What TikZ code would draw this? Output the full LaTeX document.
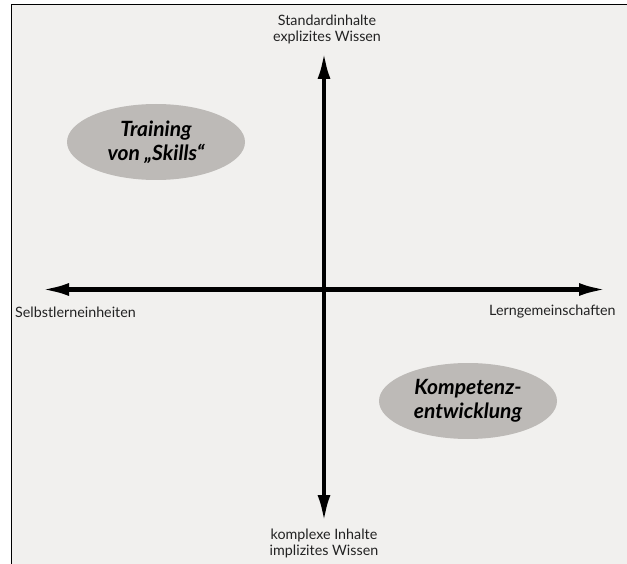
\documentclass[tikz,border=0pt]{standalone}
\usepackage{fontspec}
\setmainfont{Lato}
\usetikzlibrary{arrows.meta,shapes.geometric}
\definecolor{bgc}{HTML}{F1F0EE}
\definecolor{ellc}{HTML}{BDBAB7}
\definecolor{txt}{HTML}{222222}
\tikzset{
  axis/.style={line width=4.2pt, black, {Latex[length=27pt,width=13pt]}-{Latex[length=27pt,width=13pt]}},
  lbl/.style={inner sep=0pt, text=txt, font=\fontsize{14.3}{16}\selectfont, align=center},
  blob/.style={ellipse, fill=ellc, minimum width=178pt, minimum height=76pt, inner sep=0pt,
    text=black, font=\fontsize{21}{24.5}\selectfont\bfseries\itshape, align=center}
}
\begin{document}
\begin{tikzpicture}[x=1pt,y=-1pt]
\useasboundingbox (0,0) rectangle (627,564);
\fill[white] (0,0) rectangle (627,564);
\fill[bgc] (11,5) rectangle (627,564);
\draw[line width=1pt] (11,564) -- (11,5) -- (627,5);
% axis ends
\coordinate (top) at (324,52);
\coordinate (bot) at (324,522);
\coordinate (left) at (42,289.5);
\coordinate (right) at (606,289.5);
\draw[axis] (top) -- (bot);
\draw[axis] (left) -- (right);
% labels
\node[lbl] (tl) at (327,29.5) {Standardinhalte\\explizites Wissen};
\node[lbl] (bl) at (324,543) {komplexe Inhalte\\implizites Wissen};
\node[lbl, anchor=west] (ll) at (15,312) {Selbstlerneinheiten};
\node[lbl, anchor=west] (rl) at (489,312) {Lerngemeinschaften};
% ellipses
\node[blob] (train) at (156,142) {Training\\von „Skills“};
\node[blob] (komp) at (468,401) {Kompetenz-\\entwicklung};
\end{tikzpicture}
\end{document}
